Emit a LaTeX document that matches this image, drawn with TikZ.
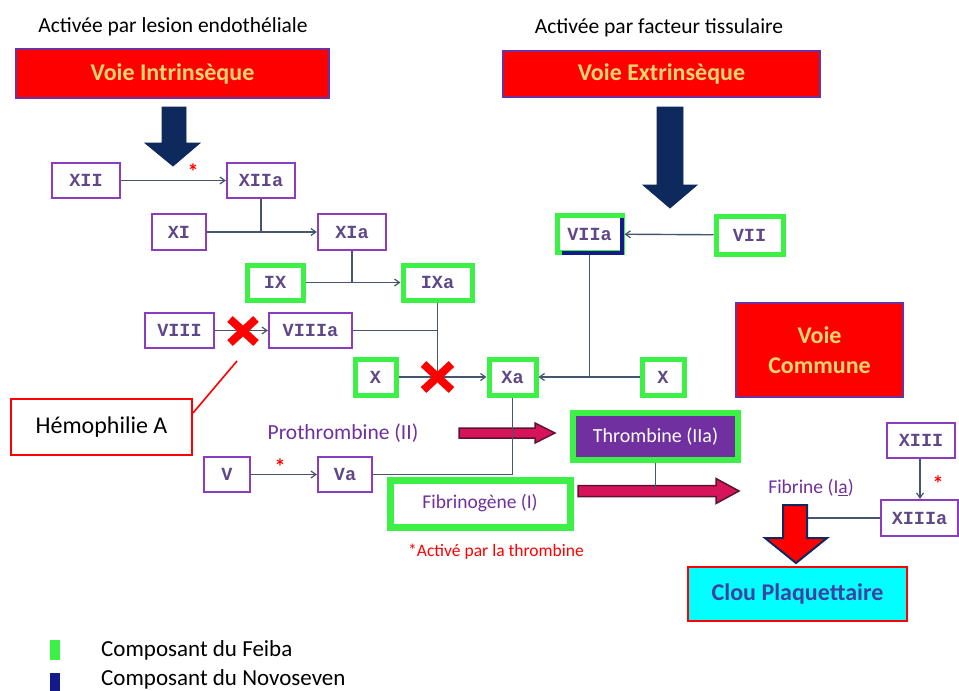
\documentclass[tikz,border=0pt]{standalone}
\usepackage{fontspec}
\setmainfont{Carlito}
\newfontfamily\factfont{Liberation Mono}
\usetikzlibrary{arrows.meta}
\definecolor{boxred}{RGB}{255,0,0}
\definecolor{boxedge}{RGB}{112,48,160}
\definecolor{titleyel}{RGB}{255,214,110}
\definecolor{fgreen}{RGB}{60,240,70}
\definecolor{navyarr}{RGB}{14,42,92}
\definecolor{novo}{RGB}{20,25,140}
\definecolor{pedge}{RGB}{140,60,190}
\definecolor{facttxt}{RGB}{95,72,135}
\definecolor{conncol}{RGB}{70,85,110}
\definecolor{purtxt}{RGB}{112,48,160}
\definecolor{magfill}{RGB}{215,20,90}
\definecolor{magedge}{RGB}{90,20,50}
\definecolor{clou}{RGB}{64,64,160}
\definecolor{cyanfill}{RGB}{0,255,255}
\begin{document}
\begin{tikzpicture}[x=1pt,y=-1pt,
  pbox/.style={draw=pedge,line width=2.2,fill=white,inner sep=0,
    font=\factfont\bfseries\fontsize{18.5}{18.5}\selectfont,text=facttxt},
  gbox/.style={draw=fgreen,line width=5,fill=white,inner sep=0,
    font=\factfont\bfseries\fontsize{18.5}{18.5}\selectfont,text=facttxt},
  redbox/.style={draw=boxedge,line width=1.2,fill=boxred,inner sep=0,
    font=\bfseries\fontsize{24}{30}\selectfont,text=titleyel,align=center},
  title/.style={font=\fontsize{21.5}{21.5}\selectfont,text=black},
  conn/.style={draw=conncol,line width=1.4,-{Straight Barb[length=5pt,width=7pt,line width=1.2pt]}},
  cline/.style={draw=conncol,line width=1.4},
  cross/.style={draw=red,line width=8},
  star/.style={text=red,font=\bfseries\fontsize{22}{22}\selectfont,inner sep=0},
  navyarrow/.style={fill=navyarr,draw=navyarr,line width=0.8},
  magarrow/.style={fill=magfill,draw=magedge,line width=1.5},
  purtext/.style={text=purtxt,font=\fontsize{21.5}{21.5}\selectfont,inner sep=0},
  legtext/.style={anchor=base west,font=\fontsize{23}{23}\selectfont,inner sep=0}
]
\useasboundingbox (0,0) rectangle (959,691);
\fill[white] (0,0) rectangle (959,691);

% titles
\node[title] (t1) at (173,27) {Activée par lesion endothéliale};
\node[title] (t2) at (659,28) {Activée par facteur tissulaire};

% red pathway boxes
\node[redbox,minimum width=313,minimum height=49] (vi) at (172.5,73.5) {Voie Intrinsèque};
\node[redbox,minimum width=317,minimum height=46] (ve) at (661.5,74) {Voie Extrinsèque};
\node[redbox,minimum width=167,minimum height=94] (vc) at (819.5,350) {Voie\\Commune};

% big navy arrows
\path[navyarrow] (162,107) -- (186,107) -- (186,143) -- (200,143) -- (173,166) -- (145,143) -- (162,143) -- cycle;
\path[navyarrow] (657,107) -- (683,107) -- (683,185) -- (697,185) -- (670,208) -- (643,185) -- (657,185) -- cycle;

% intrinsic factors
\node[pbox,minimum width=68,minimum height=35] (xii) at (86,180.5) {XII};
\node[pbox,minimum width=68,minimum height=35] (xiia) at (261,180.5) {XIIa};
\node[pbox,minimum width=54,minimum height=36] (xi) at (179,232) {XI};
\node[pbox,minimum width=68,minimum height=36] (xia) at (352,232) {XIa};
\node[gbox,minimum width=56,minimum height=35] (ix) at (275,282.5) {IX};
\node[gbox,minimum width=69,minimum height=35] (ixa) at (437.5,282.5) {IXa};
\node[pbox,minimum width=69,minimum height=35] (viii) at (179.5,330.5) {VIII};
\node[pbox,minimum width=83,minimum height=35] (viiia) at (310.5,330.5) {VIIIa};
\node[gbox,minimum width=41,minimum height=36] (x) at (375.5,377) {X};
\node[gbox,minimum width=47,minimum height=36] (xa) at (512.5,377) {Xa};

% extrinsic factors
\node[gbox,minimum width=65,minimum height=37] (viia) at (589.5,234) {VIIa};
\draw[novo,line width=4.5] (622,218) -- (622,253) -- (562,253);
\node[gbox,minimum width=67,minimum height=38] (vii) at (749.5,235) {VII};
\node[gbox,minimum width=42,minimum height=36] (x2) at (663,377) {X};

% connectors intrinsic
\draw[conn] (xii) -- (xiia);
\node[star] (s1) at (193,172) {*};
\draw[conn] (xi) -- (xia);
\draw[cline] (xiia.south) -- (xiia.south |- xi.east);
\draw[conn] (ix) -- (ixa);
\draw[cline] (xia.south) -- (xia.south |- ix.east);
\draw[conn] (viii) -- (viiia);
\draw[cline] (viiia.east) -- (ixa.south |- viiia.east);
\draw[cline] (ixa.south) -- (ixa.south |- x.east);
\draw[conn] (x) -- (xa);

% connectors extrinsic
\draw[conn] (vii) -- (viia);
\draw[cline] (viia.south) -- (viia.south |- x2.west);
\draw[conn] (x2) -- (xa);

% red crosses
\coordinate (c1) at (243,331);
\coordinate (c2) at (ixa.south |- x.east);
\draw[cross] ([shift={(-13,-12)}]c1) -- ([shift={(13,12)}]c1);
\draw[cross] ([shift={(-13,12)}]c1) -- ([shift={(13,-12)}]c1);
\draw[cross] ([shift={(-14,-13)}]c2) -- ([shift={(14,13)}]c2);
\draw[cross] ([shift={(-14,13)}]c2) -- ([shift={(14,-13)}]c2);

% Hemophilie A
\node[draw=red,line width=2,fill=white,minimum width=181,minimum height=56,
  font=\fontsize{24}{24}\selectfont] (hemo) at (101.5,427) {Hémophilie A};
\coordinate (hc) at (237,361);
\draw[red,line width=1.6] ([yshift=-15pt]hemo.north east) -- (hc);

% common pathway
\node[purtext] (proth) at (343,433) {Prothrombine (II)};
\path[magarrow] (459,428) -- (535,428) -- (535,423) -- (555,433) -- (535,443) -- (535,438) -- (459,438) -- cycle;
\node[draw=fgreen,line width=6,fill=purtxt,minimum width=165,minimum height=47,inner sep=0,
  text=white,font=\fontsize{20}{20}\selectfont] (thr) at (655.5,436.5) {Thrombine (IIa)};

\node[pbox,minimum width=46,minimum height=35] (v) at (227,474.5) {V};
\node[pbox,minimum width=54,minimum height=35] (va) at (345,474.5) {Va};
\draw[conn] (v) -- (va);
\node[star] (s2) at (280,467) {*};
\draw[cline] (xa.south) -- (xa.south |- va.east) -- (va.east);

\node[draw=fgreen,line width=7,fill=white,minimum width=180,minimum height=47,inner sep=0,
  text=purtxt,font=\fontsize{19.5}{19.5}\selectfont] (fib) at (480,503.5) {Fibrinogène (I)};
\coordinate (fa) at (578,491);
\coordinate (fb) at (739,491);
\path[magarrow] (fa) ++(0,-5.5) -- ++(138,0) -- ++(0,-7) -- (fb) -- ++(-23,12.5) -- ++(0,-7) -- ++(-138,0) -- cycle;
\draw[cline] (thr.south) -- (thr.south |- fa);

\node[purtext,font=\fontsize{19.5}{19.5}\selectfont] (fibr) at (811,488) {Fibrine (I\underline{a})};
\node[text=red,font=\fontsize{17.5}{17.5}\selectfont,inner sep=0] (note) at (496,552) {*Activé par la thrombine};

\node[pbox,minimum width=68,minimum height=35] (xiii) at (921,440.5) {XIII};
\node[pbox,minimum width=77,minimum height=36] (xiiia) at (919.5,518) {XIIIa};
\draw[conn] (xiii.south -| 920,0) -- (xiiia.north -| 920,0);
\node[star] (s3) at (938,484) {*};

\path[fill=red,draw=navyarr,line width=2] (783,505) -- (807,505) -- (807,538) -- (827,538) -- (796,563) -- (765,538) -- (783,538) -- cycle;
\coordinate (ra) at (808,518);
\draw[cline] (xiiia.west) -- (ra);

\node[draw=red,line width=2.5,fill=cyanfill,minimum width=219,minimum height=54,inner sep=0,
  text=clou,font=\bfseries\fontsize{24}{24}\selectfont] (clp) at (797.5,594) {Clou Plaquettaire};

% legend
\fill[fgreen] (50,640) rectangle (60,660);
\fill[novo] (50,673) rectangle (60,691);
\node[legtext] (l1) at (101,656) {Composant du Feiba};
\node[legtext] (l2) at (101,685) {Composant du Novoseven};
\end{tikzpicture}
\end{document}
